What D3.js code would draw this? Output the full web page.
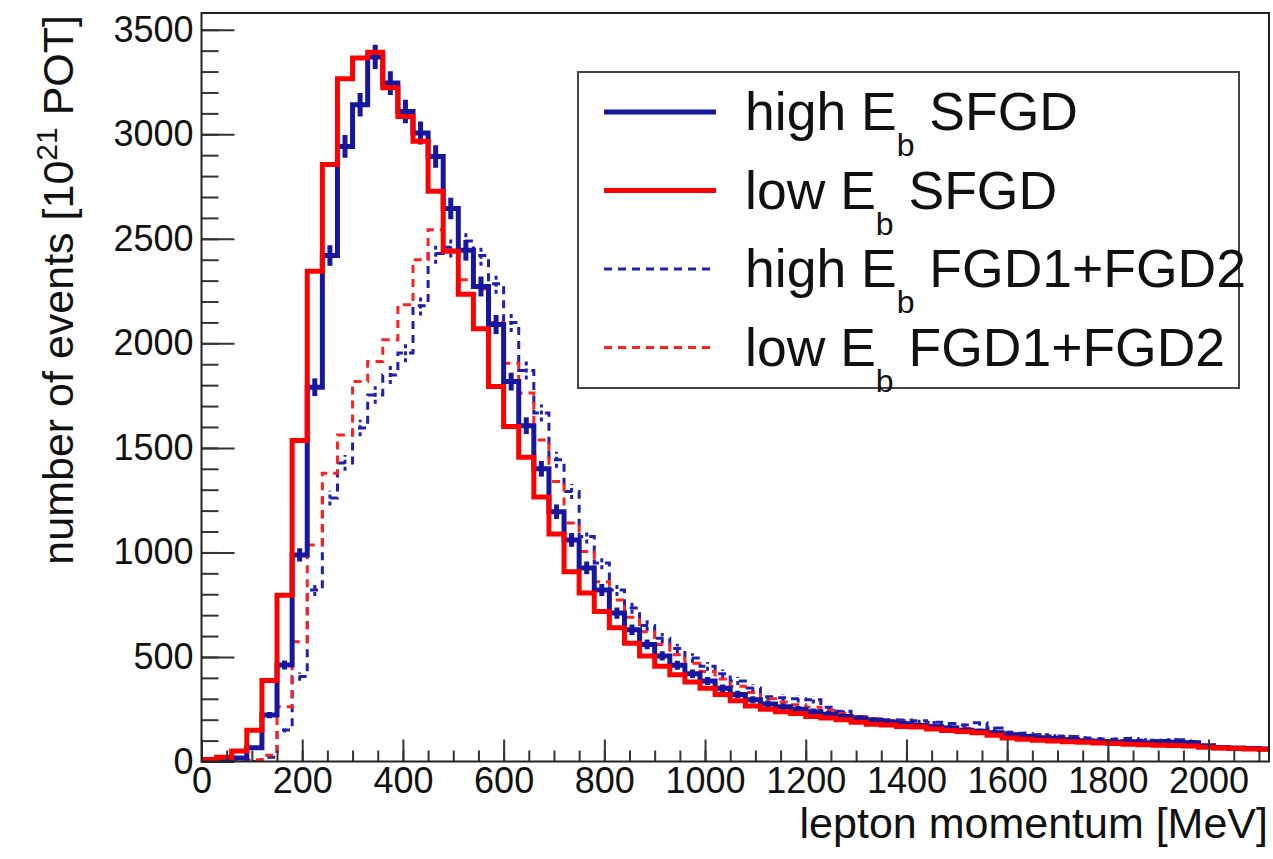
<!DOCTYPE html>
<html>
<head>
<meta charset="utf-8">
<script src="https://cdn.jsdelivr.net/npm/d3@7"></script>
<style>
  body { margin: 0; background: #fff; }
  text { font-family: "Liberation Sans", Arial, Helvetica, sans-serif; fill: #111; }
</style>
</head>
<body>
<svg id="chart" width="1273" height="859"></svg>
<script>
// 30 MeV bins starting at 0
const BIN_WIDTH = 30
const X_MAX = 2120
const Y_MAX = 3580

const lowSFGD = [10, 20, 50, 150, 388, 795, 1535, 2345, 2855, 3265, 3365, 3392, 3222, 3085, 2966, 2727,
  2440, 2235, 2070, 1793, 1602, 1455, 1265, 1088, 908, 806, 717, 640, 565, 505, 455, 415, 380, 350, 320,
  290, 265, 250, 238, 230, 215, 208, 200, 188, 178, 175, 168, 165, 155, 148, 143, 138, 125, 112, 106, 102,
  98, 94, 92, 88, 86, 82, 80, 78, 77, 74, 68, 64, 62, 60, 58]
const highSFGD = [0, 5, 17, 66, 222, 462, 988, 1790, 2420, 2942, 3141, 3370, 3245, 3109, 3006, 2894,
  2645, 2445, 2272, 2090, 1817, 1606, 1400, 1195, 1060, 926, 820, 710, 630, 560, 505, 460, 420, 385, 350,
  320, 295, 275, 262, 250, 238, 226, 215, 205, 196, 188, 180, 172, 166, 160, 150, 145, 138, 128, 120, 112,
  110, 104, 98, 94, 92, 95, 88, 95, 92, 90, 75, 66, 64, 62, 60]
const highFGD = [0, 0, 2, 5, 20, 151, 406, 820, 1260, 1428, 1595, 1753, 1849, 1954, 2180, 2430,
  2460, 2490, 2420, 2285, 2100, 1870, 1667, 1443, 1291, 1076, 950, 820, 734, 650, 590, 540, 495, 455, 420,
  385, 352, 310, 305, 300, 295, 260, 240, 215, 205, 200, 198, 195, 188, 182, 175, 185, 160, 140, 135, 128,
  122, 120, 112, 108, 106, 110, 102, 100, 104, 96, 74, 70, 66, 64, 62]
const lowFGD = [0, 0, 3, 8, 30, 262, 573, 1036, 1379, 1562, 1817, 1913, 2017, 2184, 2400, 2543,
  2447, 2304, 2260, 2100, 1905, 1762, 1538, 1339, 1141, 1004, 860, 773, 690, 620, 560, 510, 470, 430, 395,
  360, 330, 300, 285, 272, 260, 245, 230, 215, 205, 196, 188, 180, 172, 165, 158, 150, 140, 130, 124, 118,
  112, 108, 104, 100, 97, 94, 92, 90, 86, 82, 76, 70, 66, 63, 60]

const xMajor = d3.range(0, 2001, 200)
const xMinor = d3.range(0, 2121, 50)
const yMajor = d3.range(0, 3501, 500)
const yMinor = d3.range(0, 3501, 100)

const series = [
  {name: 'high', sub: 'b', rest: ' FGD1+FGD2', data: highFGD, color: '#2020b0', width: 3, dash: '8,6', err: true},
  {name: 'low', sub: 'b', rest: ' FGD1+FGD2', data: lowFGD, color: '#ff2020', width: 3, dash: '8,6', err: false},
  {name: 'high', sub: 'b', rest: ' SFGD', data: highSFGD, color: '#16169e', width: 5, dash: null, err: true},
  {name: 'low', sub: 'b', rest: ' SFGD', data: lowSFGD, color: '#ff0000', width: 5, dash: null, err: false},
]
const legendOrder = [2, 3, 0, 1]

const svg = d3.select('#chart')
const pLeft = 201.5, pRight = 1269, pTop = 13, pBottom = 761.5

const x = d3.scaleLinear().domain([0, X_MAX]).range([pLeft, pRight])
const y = d3.scaleLinear().domain([0, Y_MAX]).range([pBottom, pTop])

svg.append('clipPath').attr('id', 'plot')
  .append('rect').attr('x', pLeft).attr('y', pTop).attr('width', pRight - pLeft).attr('height', pBottom - pTop)

const stepLine = d3.line().x(d => x(d[0])).y(d => y(d[1])).curve(d3.curveStepAfter)

const plot = svg.append('g').attr('clip-path', 'url(#plot)')
series.forEach(s => {
  const pts = s.data.map((v, i) => [i * BIN_WIDTH, v])
  pts.push([s.data.length * BIN_WIDTH, s.data[s.data.length - 1]])
  plot.append('path')
    .attr('d', stepLine(pts))
    .attr('fill', 'none')
    .attr('stroke', s.color)
    .attr('stroke-width', s.width)
    .attr('stroke-dasharray', s.dash)
  if (s.err) {
    // statistical error bars at bin centres
    plot.selectAll(null)
      .data(s.data.map((v, i) => ({v, i})).filter(d => d.v > 0))
      .join('line')
      .attr('x1', d => x((d.i + 0.5) * BIN_WIDTH))
      .attr('x2', d => x((d.i + 0.5) * BIN_WIDTH))
      .attr('y1', d => y(d.v - Math.sqrt(d.v)))
      .attr('y2', d => y(d.v + Math.sqrt(d.v)))
      .attr('stroke', s.color)
      .attr('stroke-width', s.width)
      .attr('stroke-dasharray', s.dash ? '4,3' : null)
  }
})

// axes
const xAxis = svg.append('g').attr('transform', `translate(0,${pBottom})`)
  .call(d3.axisBottom(x).tickValues(xMajor).tickSize(-22).tickPadding(6).tickFormat(d3.format('d')))
xAxis.append('g').call(d3.axisBottom(x).tickValues(xMinor).tickSize(-11).tickFormat(''))
const yAxis = svg.append('g').attr('transform', `translate(${pLeft},0)`)
  .call(d3.axisLeft(y).tickValues(yMajor).tickSize(-33).tickPadding(8).tickFormat(d3.format('d')))
yAxis.append('g').call(d3.axisLeft(y).tickValues(yMinor).tickSize(-17).tickFormat(''))

svg.selectAll('.domain').remove()
svg.selectAll('.tick line').attr('stroke', '#333').attr('stroke-width', 2)
svg.selectAll('.tick text').style('font-size', '36px').attr('fill', '#111')

svg.append('rect')
  .attr('x', pLeft).attr('y', pTop).attr('width', pRight - pLeft).attr('height', pBottom - pTop)
  .attr('fill', 'none').attr('stroke', '#222').attr('stroke-width', 2)

// axis titles
svg.append('text')
  .attr('x', 1268).attr('y', 838).attr('text-anchor', 'end')
  .style('font-size', '43px')
  .text('lepton momentum [MeV]')

const yt = svg.append('text')
  .attr('transform', 'translate(73,15) rotate(-90)')
  .attr('text-anchor', 'end')
  .style('font-size', '43px')
yt.append('tspan').text('number of events [10')
yt.append('tspan').attr('dy', -16).style('font-size', '30px').text('21')
yt.append('tspan').attr('dy', 16).text(' POT]')

// legend
const legend = svg.append('g')
legend.append('rect')
  .attr('x', 578).attr('y', 72).attr('width', 661).attr('height', 316)
  .attr('fill', '#fff').attr('stroke', '#444').attr('stroke-width', 2)
legendOrder.forEach((k, row) => {
  const s = series[k]
  const cy = 112 + row * 78.5
  legend.append('line')
    .attr('x1', 604).attr('x2', 716).attr('y1', cy).attr('y2', cy)
    .attr('stroke', s.color).attr('stroke-width', s.width).attr('stroke-dasharray', s.dash)
  const t = legend.append('text').attr('x', 745).attr('y', cy + 18).style('font-size', '53.5px')
  t.append('tspan').text(s.name + ' E')
  t.append('tspan').attr('dy', 26).style('font-size', '32px').text(s.sub)
  t.append('tspan').attr('dy', -26).text(s.rest)
})
</script>
</body>
</html>
